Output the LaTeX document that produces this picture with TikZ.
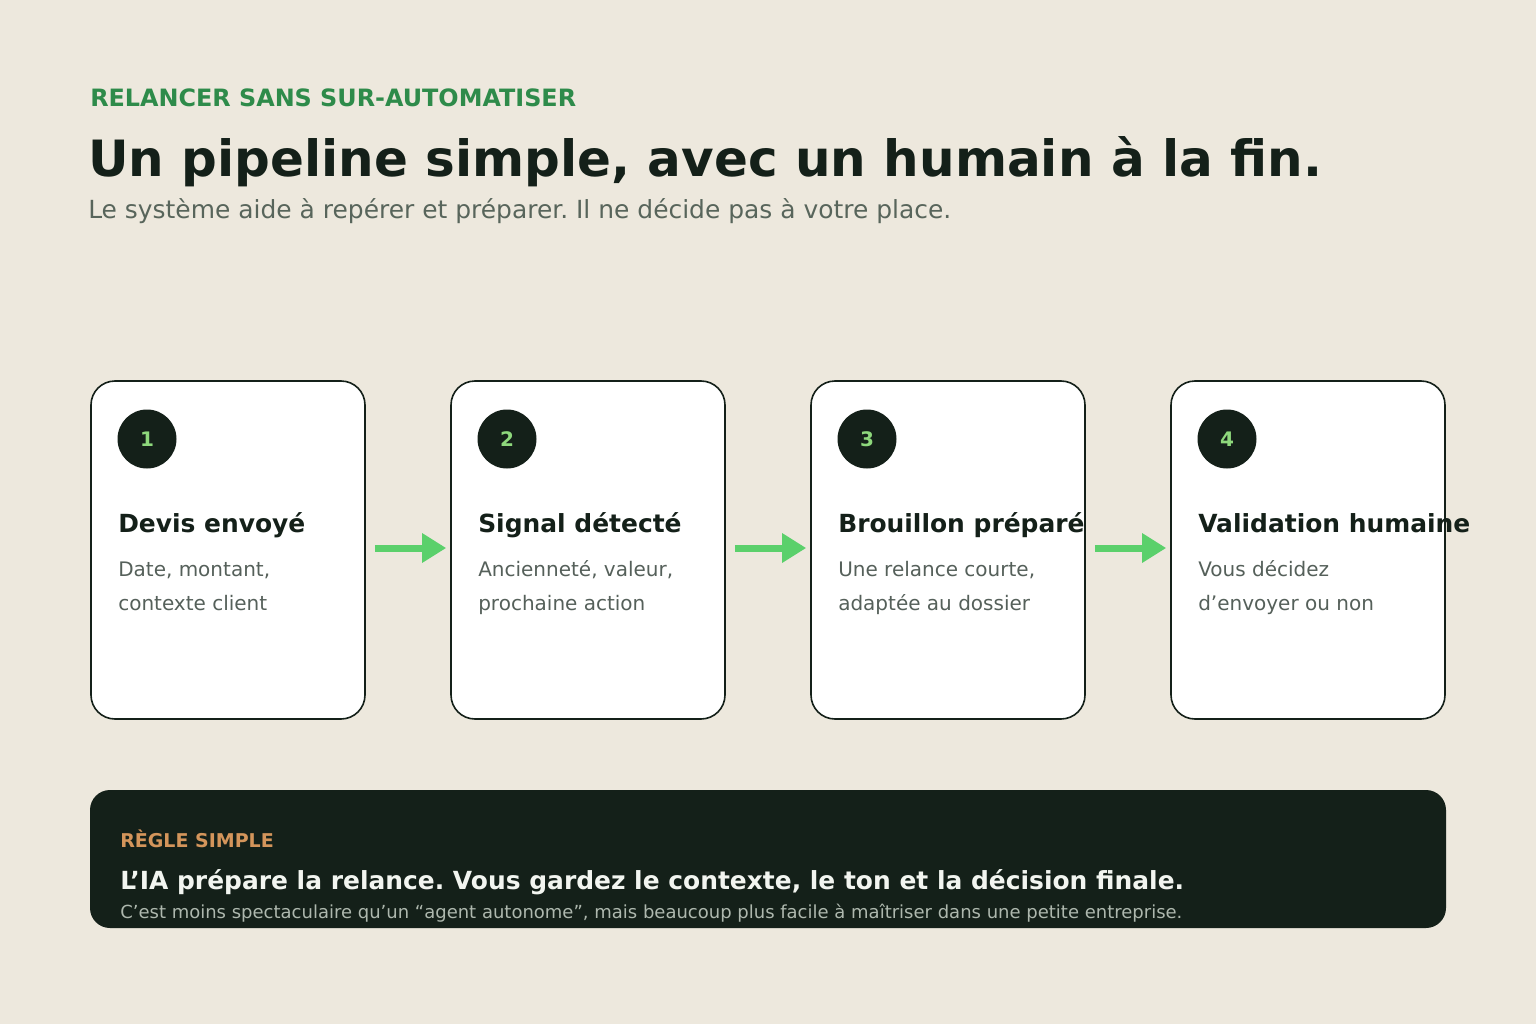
\documentclass[tikz,border=0pt]{standalone}
\usepackage{fontspec}
\setmainfont{DejaVu Sans}
\usetikzlibrary{arrows.meta}
\frenchspacing
\definecolor{bgc}{HTML}{EDE8DD}
\definecolor{darkc}{HTML}{142019}
\definecolor{eyebrowc}{HTML}{2E8B4A}
\definecolor{subc}{HTML}{58655B}
\definecolor{descc}{HTML}{55605A}
\definecolor{numc}{HTML}{8ED87C}
\definecolor{arrowc}{HTML}{5BD06B}
\definecolor{orangec}{HTML}{D4955B}
\definecolor{lightc}{HTML}{F2F5F0}
\definecolor{bannersubc}{HTML}{AEB8AE}
\tikzset{
  txt/.style={inner sep=0pt, anchor=base west},
  cardbox/.style={draw=darkc, line width=1.2pt, fill=white, rounded corners=18pt,
    minimum width=205.5pt, minimum height=253.5pt, inner sep=0pt},
  numcircle/.style={circle, fill=darkc, minimum size=44.25pt, inner sep=0pt,
    text=numc, font=\fontsize{15}{18}\selectfont\bfseries},
  cardtitle/.style={txt, text=darkc, font=\fontsize{18.7}{22}\selectfont\bfseries},
  carddesc/.style={txt, text=descc, font=\fontsize{15}{25.5}\selectfont, align=left},
  flowarrow/.style={draw=arrowc, line width=5.25pt, -{Triangle[length=18pt,width=21pt]}},
  bannerbox/.style={fill=darkc, rounded corners=15pt, minimum width=1017pt,
    minimum height=103.5pt, inner sep=0pt}
}
\begin{document}
\begin{tikzpicture}[x=0.75pt,y=-0.75pt]
\useasboundingbox (0,0) rectangle (1536,1024);
\fill[bgc] (0,0) rectangle (1536,1024);

% header
\node[txt, text=eyebrowc, font=\fontsize{17.9}{21}\selectfont\bfseries] (eyebrow) at (90,107) {RELANCER SANS SUR-AUTOMATISER};
\node[txt, text=darkc, font=\fontsize{37.5}{45}\selectfont\bfseries] (title) at (88,176) {Un pipeline simple, avec un humain à la fin.};
\node[txt, text=subc, font=\fontsize{18.7}{22}\selectfont] (subtitle) at (88,218) {Le système aide à repérer et préparer. Il ne décide pas à votre place.};

% cards
\node[cardbox] (card1) at (228,550) {};
\node[cardbox] (card2) at (588,550) {};
\node[cardbox] (card3) at (948,550) {};
\node[cardbox] (card4) at (1308,550) {};

\node[numcircle] (n1) at (147,439) {1};
\node[numcircle] (n2) at (507,439) {2};
\node[numcircle] (n3) at (867,439) {3};
\node[numcircle] (n4) at (1227,439) {4};

\node[cardtitle] (t1) at (118,532) {Devis envoyé};
\node[cardtitle] (t2) at (478,532) {Signal détecté};
\node[cardtitle] (t3) at (838,532) {Brouillon préparé};
\node[cardtitle] (t4) at (1198,532) {Validation humaine};

\node[carddesc] (d1) at (118,610) {Date, montant,\\contexte client};
\node[carddesc] (d2) at (478,610) {Ancienneté, valeur,\\prochaine action};
\node[carddesc] (d3) at (838,610) {Une relance courte,\\adaptée au dossier};
\node[carddesc] (d4) at (1198,610) {Vous décidez\\d’envoyer ou non};

% arrows
\draw[flowarrow] ([xshift=6.75pt,yshift=1.5pt]card1.east) -- ([xshift=-3pt,yshift=1.5pt]card2.west);
\draw[flowarrow] ([xshift=6.75pt,yshift=1.5pt]card2.east) -- ([xshift=-3pt,yshift=1.5pt]card3.west);
\draw[flowarrow] ([xshift=6.75pt,yshift=1.5pt]card3.east) -- ([xshift=-3pt,yshift=1.5pt]card4.west);

% banner
\node[bannerbox] (banner) at (768,859) {};
\node[txt, text=orangec, font=\fontsize{14.25}{17}\selectfont\bfseries] (rule) at (120,847) {RÈGLE SIMPLE};
\node[txt, text=lightc, font=\fontsize{18.7}{22}\selectfont\bfseries] (rulemain) at (120,889) {L’IA prépare la relance. Vous gardez le contexte, le ton et la décision finale.};
\node[txt, text=bannersubc, font=\fontsize{13.5}{16}\selectfont] (rulesub) at (120,918) {C’est moins spectaculaire qu’un “agent autonome”, mais beaucoup plus facile à maîtriser dans une petite entreprise.};
\end{tikzpicture}
\end{document}
